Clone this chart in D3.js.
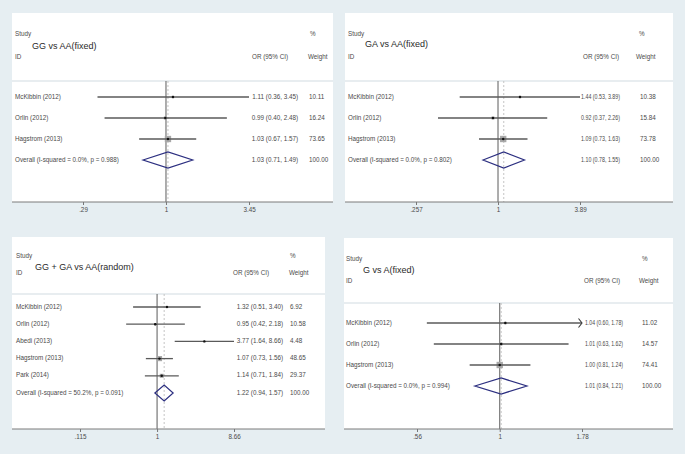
<!DOCTYPE html>
<html>
<head>
<meta charset="utf-8">
<script src="https://cdn.jsdelivr.net/npm/d3@7"></script>
<style>
  html, body { margin: 0; padding: 0; background: #e6eef2; }
  svg { display: block; }
  text { font-family: "Liberation Sans", Arial, sans-serif; }
</style>
</head>
<body>
<svg id="chart" width="685" height="454"></svg>
<script>
// ---------------- DATA ----------------
const panelTitles = ["GG vs AA(fixed)", "GA vs AA(fixed)", "GG + GA vs AA(random)", "G vs A(fixed)"];

const studies1 = ["McKibbin (2012)", "Orlin  (2012)", "Hagstrom (2013)"];
const or1 = [1.11, 0.99, 1.03];
const lo1 = [0.36, 0.40, 0.67];
const hi1 = [3.45, 2.48, 1.57];
const w1 = [10.11, 16.24, 73.65];
const overall1 = { or: 1.03, lo: 0.71, hi: 1.49, label: "Overall  (I-squared = 0.0%, p = 0.988)" };
const tickVals1 = [0.29, 1, 3.45];
const tickLabels1 = [".29", "1", "3.45"];

const studies2 = ["McKibbin (2012)", "Orlin  (2012)", "Hagstrom (2013)"];
const or2 = [1.44, 0.92, 1.09];
const lo2 = [0.53, 0.37, 0.73];
const hi2 = [3.89, 2.26, 1.63];
const w2 = [10.38, 15.84, 73.78];
const overall2 = { or: 1.10, lo: 0.78, hi: 1.55, label: "Overall  (I-squared = 0.0%, p = 0.802)" };
const tickVals2 = [0.257, 1, 3.89];
const tickLabels2 = [".257", "1", "3.89"];

const studies3 = ["McKibbin (2012)", "Orlin  (2012)", "Abedi (2013)", "Hagstrom (2013)", "Park (2014)"];
const or3 = [1.32, 0.95, 3.77, 1.07, 1.14];
const lo3 = [0.51, 0.42, 1.64, 0.73, 0.71];
const hi3 = [3.40, 2.18, 8.66, 1.56, 1.84];
const w3 = [6.92, 10.58, 4.48, 48.65, 29.37];
const overall3 = { or: 1.22, lo: 0.94, hi: 1.57, label: "Overall  (I-squared = 50.2%, p = 0.091)" };
const tickVals3 = [0.115, 1, 8.66];
const tickLabels3 = [".115", "1", "8.66"];

const studies4 = ["McKibbin (2012)", "Orlin (2012)", "Hagstrom  (2013)"];
const or4 = [1.04, 1.01, 1.00];
const lo4 = [0.60, 0.63, 0.81];
const hi4 = [1.78, 1.62, 1.24];
const w4 = [11.02, 14.57, 74.41];
const clipped4 = [true, false, false];
const overall4 = { or: 1.01, lo: 0.84, hi: 1.21, label: "Overall  (I-squared = 0.0%, p = 0.994)" };
const tickVals4 = [0.56, 1, 1.78];
const tickLabels4 = [".56", "1", "1.78"];

const panelsData = [
  { title: panelTitles[0], studies: studies1, or: or1, lo: lo1, hi: hi1, w: w1, clipped: [false,false,false], overall: overall1, ticks: tickVals1, tickLabels: tickLabels1 },
  { title: panelTitles[1], studies: studies2, or: or2, lo: lo2, hi: hi2, w: w2, clipped: [false,false,false], overall: overall2, ticks: tickVals2, tickLabels: tickLabels2 },
  { title: panelTitles[2], studies: studies3, or: or3, lo: lo3, hi: hi3, w: w3, clipped: [false,false,false,false,false], overall: overall3, ticks: tickVals3, tickLabels: tickLabels3 },
  { title: panelTitles[3], studies: studies4, or: or4, lo: lo4, hi: hi4, w: w4, clipped: clipped4, overall: overall4, ticks: tickVals4, tickLabels: tickLabels4 }
];

// ---------------- LAYOUT ----------------
const layouts = [
  { x0: 12, x1: 333, y0: 13, sep: 81, axisY: 202, xLo: 83, xHi: 249, rowFirst: 97, rowLast: 160, estLen: null,
    labelX: 15, titleX: 32, titleY: 47, studyY: 34, idY: 57, orHeadX: 252, estRight: 298, pctX: 310, weightHeadX: 308, wX: 309 },
  { x0: 345, x1: 673, y0: 13, sep: 81, axisY: 202, xLo: 416, xHi: 580, rowFirst: 97, rowLast: 160, estLen: 39,
    labelX: 348, titleX: 365, titleY: 45, studyY: 34, idY: 57, orHeadX: 583, estRight: 620, pctX: 639, weightHeadX: 636, wX: 640 },
  { x0: 12, x1: 325, y0: 237, sep: 294, axisY: 429, xLo: 80, xHi: 234, rowFirst: 307, rowLast: 393, estLen: null,
    labelX: 16, titleX: 35, titleY: 268, studyY: 256, idY: 273, orHeadX: 233, estRight: 283, pctX: 290, weightHeadX: 289, wX: 290 },
  { x0: 344, x1: 673, y0: 238, sep: 303, axisY: 429, xLo: 417, xHi: 582, rowFirst: 323, rowLast: 386, estLen: 38,
    labelX: 346, titleX: 363, titleY: 271, studyY: 259, idY: 281, orHeadX: 584, estRight: 623, pctX: 642, weightHeadX: 639, wX: 642 }
];

const svg = d3.select("#chart");
const fmt2 = d3.format(".2f");
const smallFont = 6.3;
const textCol = "#4a4a4a";
const boxSize = d3.scaleSqrt().domain([0, 100]).range([0, 7.4]);

panelsData.forEach((p, i) => {
  const L = layouts[i];
  const g = svg.append("g");

  // white plot region, header separator
  g.append("rect").attr("x", L.x0).attr("y", L.y0).attr("width", L.x1 - L.x0).attr("height", L.axisY - L.y0)
    .attr("fill", "#ffffff");
  g.append("line").attr("x1", L.x0).attr("x2", L.x1).attr("y1", L.sep).attr("y2", L.sep)
    .attr("stroke", "#e1e7eb").attr("stroke-width", 1.6);

  const x = d3.scaleLog().domain([p.ticks[0], p.ticks[2]]).range([L.xLo, L.xHi]);
  const rows = p.studies.concat(["__overall__"]);
  const y = d3.scalePoint().domain(rows).range([L.rowFirst, L.rowLast]);

  const txt = (xx, yy, s, opts = {}) => {
    const t = g.append("text").attr("x", xx).attr("y", yy)
      .attr("dominant-baseline", "middle").attr("font-size", opts.size || smallFont)
      .attr("fill", opts.fill || textCol).attr("text-anchor", opts.anchor || "start").text(s);
    if (opts.len) t.attr("textLength", opts.len).attr("lengthAdjust", "spacingAndGlyphs");
    return t;
  };
  txt(L.labelX, L.studyY, "Study");
  txt(L.labelX, L.idY, "ID");
  txt(L.titleX, L.titleY, p.title, { size: 9, fill: "#2a2a2a" });
  txt(L.orHeadX, L.idY, "OR (95% CI)");
  txt(L.pctX, L.studyY, "%");
  txt(L.weightHeadX, L.idY, "Weight");

  // null line and overall dashed line
  g.append("line").attr("x1", x(1)).attr("x2", x(1)).attr("y1", L.sep).attr("y2", L.axisY)
    .attr("stroke", "#6a6a6a").attr("stroke-width", 1.1);
  g.append("line").attr("x1", x(p.overall.or)).attr("x2", x(p.overall.or)).attr("y1", L.sep).attr("y2", L.axisY)
    .attr("stroke", "#c4c4c4").attr("stroke-width", 1).attr("stroke-dasharray", "2,2");

  const estOpts = { anchor: "end", len: L.estLen };

  // studies
  p.studies.forEach((s, j) => {
    const yy = y(s);
    const xl = x(p.lo[j]), xr = x(p.hi[j]);
    const side = boxSize(p.w[j]);
    g.append("rect").attr("x", x(p.or[j]) - side / 2).attr("y", yy - side / 2)
      .attr("width", side).attr("height", side).attr("fill", "#a8a8a8");
    g.append("line").attr("x1", xl).attr("x2", xr).attr("y1", yy).attr("y2", yy)
      .attr("stroke", "#5a5a5a").attr("stroke-width", 1.3);
    if (p.clipped[j]) {
      g.append("path")
        .attr("d", `M${xr - 3.5},${yy - 4.5} L${xr},${yy} L${xr - 3.5},${yy + 4.5}`)
        .attr("fill", "none").attr("stroke", "#3a3a3a").attr("stroke-width", 1.1);
    }
    g.append("circle").attr("cx", x(p.or[j])).attr("cy", yy).attr("r", 1.2).attr("fill", "#111");
    txt(L.labelX, yy, s);
    txt(L.estRight, yy, `${fmt2(p.or[j])} (${fmt2(p.lo[j])}, ${fmt2(p.hi[j])})`, estOpts);
    txt(L.wX, yy, fmt2(p.w[j]));
  });

  // overall diamond
  const yo = y("__overall__");
  const o = p.overall;
  g.append("path")
    .attr("d", `M${x(o.lo)},${yo} L${x(o.or)},${yo - 8} L${x(o.hi)},${yo} L${x(o.or)},${yo + 8} Z`)
    .attr("fill", "none").attr("stroke", "#2c2f80").attr("stroke-width", 1.2);
  txt(L.labelX, yo, o.label);
  txt(L.estRight, yo, `${fmt2(o.or)} (${fmt2(o.lo)}, ${fmt2(o.hi)})`, estOpts);
  txt(L.wX, yo, fmt2(100));

  // axis
  const axis = d3.axisBottom(x).tickValues(p.ticks).tickFormat((d, k) => p.tickLabels[k]).tickSize(3).tickPadding(3);
  const ag = g.append("g").attr("transform", `translate(0,${L.axisY})`).call(axis);
  ag.select(".domain").remove();
  ag.selectAll(".tick line").attr("stroke", "#777");
  ag.selectAll(".tick text").attr("font-size", smallFont).attr("fill", textCol)
    .attr("font-family", "Liberation Sans, Arial, sans-serif");
  g.append("line").attr("x1", L.x0).attr("x2", L.x1).attr("y1", L.axisY).attr("y2", L.axisY)
    .attr("stroke", "#7a7a7a").attr("stroke-width", 1);
});
</script>
</body>
</html>
